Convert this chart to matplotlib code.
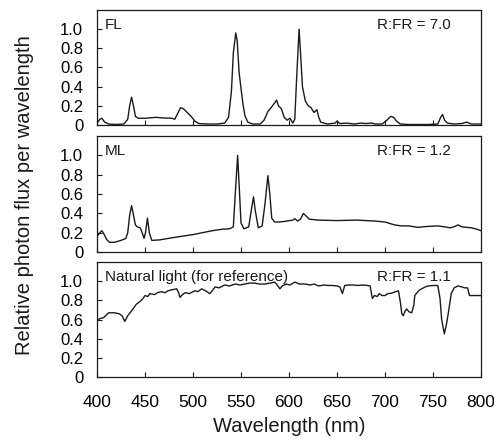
import numpy as np
import matplotlib
matplotlib.use("Agg")
import matplotlib.pyplot as plt

plt.rcParams['font.family'] = ['Liberation Sans', 'DejaVu Sans']

# spectra (wavelength in nm, relative photon flux)
fl_nm = [400, 403, 405, 408, 412, 420, 428, 432, 434, 436, 438, 440, 443, 450, 456,
         462, 466, 472, 478, 481, 484, 487, 490, 494, 498, 502, 506, 515, 525, 533,
         537, 540, 542, 544.5, 546, 548, 550, 552, 554, 557, 562, 570, 574, 578, 582,
         585, 587, 589, 592, 595, 598, 601, 604, 606, 608, 610.5, 612, 614, 617, 620,
         623, 626, 629, 631, 633, 640, 648, 650, 653, 660, 668, 675, 680, 686, 690,
         697, 702, 706, 709, 712, 716, 725, 735, 745, 755, 758, 760, 762, 765, 772,
         780, 785, 790, 800]
fl_val = [0.02, 0.06, 0.07, 0.03, 0.01, 0.005, 0.01, 0.06, 0.2, 0.29, 0.2, 0.09, 0.07,
          0.07, 0.075, 0.08, 0.075, 0.072, 0.07, 0.06, 0.12, 0.18, 0.17, 0.13, 0.09,
          0.04, 0.015, 0.01, 0.01, 0.02, 0.08, 0.35, 0.75, 0.96, 0.88, 0.55, 0.38, 0.22,
          0.1, 0.03, 0.01, 0.01, 0.05, 0.14, 0.19, 0.23, 0.26, 0.2, 0.17, 0.08, 0.05,
          0.07, 0.02, 0.06, 0.5, 1.0, 0.75, 0.4, 0.25, 0.2, 0.18, 0.13, 0.16, 0.08, 0.03,
          0.01, 0.02, 0.04, 0.015, 0.02, 0.01, 0.02, 0.015, 0.02, 0.01, 0.01, 0.05, 0.09,
          0.08, 0.04, 0.01, 0.005, 0.005, 0.005, 0.01, 0.08, 0.11, 0.05, 0.02, 0.01,
          0.015, 0.03, 0.01, 0.01]

ml_nm = [400, 403, 405, 407, 410, 413, 418, 425, 430, 432, 434, 436, 438, 440, 442,
         445, 447, 449, 450.5, 452.5, 454.5, 457, 465, 480, 500, 520, 530, 538, 542,
         544, 546.5, 548.5, 550, 553, 558, 561, 563, 565, 568, 572, 575, 578, 580, 582,
         585, 590, 598, 604, 606, 609, 612, 615, 618, 621, 630, 650, 670, 690, 700,
         710, 717, 725, 734, 745, 755, 762, 768, 773, 776, 780, 790, 796, 800]
ml_val = [0.16, 0.2, 0.22, 0.19, 0.13, 0.10, 0.1, 0.12, 0.14, 0.2, 0.38, 0.48, 0.38,
          0.28, 0.26, 0.25, 0.2, 0.14, 0.2, 0.35, 0.2, 0.12, 0.125, 0.15, 0.18, 0.22,
          0.235, 0.24, 0.26, 0.6, 1.0, 0.6, 0.3, 0.24, 0.26, 0.45, 0.57, 0.42, 0.25,
          0.27, 0.5, 0.79, 0.6, 0.35, 0.31, 0.31, 0.32, 0.33, 0.345, 0.32, 0.34, 0.40,
          0.37, 0.34, 0.33, 0.325, 0.33, 0.32, 0.31, 0.28, 0.27, 0.27, 0.255, 0.265,
          0.27, 0.26, 0.25, 0.265, 0.28, 0.26, 0.25, 0.235, 0.22]

nat_nm = [400, 403, 407, 412, 418, 423, 426, 429, 432, 436, 441, 445, 448, 450, 453,
          455, 460, 463, 467, 471, 474, 478, 483, 485, 486.5, 489, 492, 496, 502, 505,
          509, 513, 517.5, 520, 523, 527, 533, 538, 544, 549, 554, 559, 564, 569, 575,
          580, 585, 587, 590.5, 593, 597, 601, 606, 611, 617, 622, 626, 631, 636, 641,
          645, 650, 653, 655.6, 658, 662, 667, 672, 677, 682, 684.5, 686.8, 689, 692,
          694, 697, 700, 703, 707, 711, 714, 716, 717.5, 719, 721, 722.6, 725, 727.8,
          730, 731, 735, 738, 742, 745, 750, 755, 757.3, 759, 761.8, 764, 766, 769,
          772, 776, 780, 783, 786, 788, 795, 800]
nat_val = [0.59, 0.61, 0.62, 0.67, 0.67, 0.66, 0.64, 0.58, 0.64, 0.69, 0.76, 0.79,
           0.82, 0.85, 0.84, 0.87, 0.86, 0.88, 0.89, 0.88, 0.9, 0.91, 0.92, 0.88, 0.83,
           0.86, 0.88, 0.87, 0.9, 0.89, 0.92, 0.9, 0.87, 0.9, 0.94, 0.93, 0.96, 0.95,
           0.97, 0.96, 0.97, 0.98, 0.98, 0.97, 0.97, 0.98, 0.99, 0.97, 0.92, 0.95, 0.97,
           0.96, 0.99, 0.97, 0.97, 0.96, 0.97, 0.95, 0.96, 0.955, 0.955, 0.95, 0.94,
           0.87, 0.955, 0.96, 0.96, 0.955, 0.96, 0.955, 0.95, 0.82, 0.85, 0.84, 0.87,
           0.85, 0.85, 0.87, 0.875, 0.89, 0.9, 0.78, 0.66, 0.64, 0.69, 0.71, 0.68, 0.67,
           0.75, 0.85, 0.9, 0.92, 0.94, 0.95, 0.955, 0.955, 0.82, 0.6, 0.45, 0.55, 0.67,
           0.87, 0.93, 0.95, 0.94, 0.93, 0.93, 0.85, 0.85, 0.85]

panel_names = ['FL', 'ML', 'Natural light (for reference)']
ratio_labels = ['R:FR = 7.0', 'R:FR = 1.2', 'R:FR = 1.1']
x_ticks = [400, 450, 500, 550, 600, 650, 700, 750, 800]
y_ticks = [0, 0.2, 0.4, 0.6, 0.8, 1.0]
y_tick_labels = ['0', '0.2', '0.4', '0.6', '0.8', '1.0']

spectra = [(fl_nm, fl_val), (ml_nm, ml_val), (nat_nm, nat_val)]

fig = plt.figure(figsize=(4.94, 4.41), dpi=100)
ink = '#1a1a1a'
# axes boxes in figure fractions (left, bottom, width, height)
boxes = [(0.1964, 0.7166, 0.7773, 0.2608),
         (0.1964, 0.4286, 0.7773, 0.2630),
         (0.1964, 0.1451, 0.7773, 0.2608)]

axes = []
for i, (nm, val) in enumerate(spectra):
    ax = fig.add_axes(boxes[i])
    ax.plot(nm, val, color=ink, linewidth=1.0)
    ax.set_xlim(400, 800)
    ax.set_ylim(0, 1.2)
    ax.set_xticks(x_ticks)
    ax.set_yticks(y_ticks)
    ax.set_yticklabels(y_tick_labels)
    ax.tick_params(direction='in', length=3.5, width=0.8, color=ink,
                   top=False, right=False, labelsize=12, pad=10)
    ax.tick_params(axis='x', labelsize=12.5, pad=13)
    if i < 2:
        ax.tick_params(axis='x', labelbottom=False)
    for s in ax.spines.values():
        s.set_linewidth(0.9)
        s.set_color(ink)
    ax.text(0.021, 0.93, panel_names[i], transform=ax.transAxes,
            ha='left', va='top', fontsize=11, color=ink)
    ax.text(0.922, 0.93, ratio_labels[i], transform=ax.transAxes,
            ha='right', va='top', fontsize=11, color=ink)
    axes.append(ax)

axes[2].set_xlabel('Wavelength (nm)', fontsize=14.5, color=ink, labelpad=5)
fig.text(0.049, 0.558, 'Relative photon flux per wavelength', rotation=90,
         ha='center', va='center', fontsize=14.5, color=ink)

plt.savefig('out.png', dpi=100)
